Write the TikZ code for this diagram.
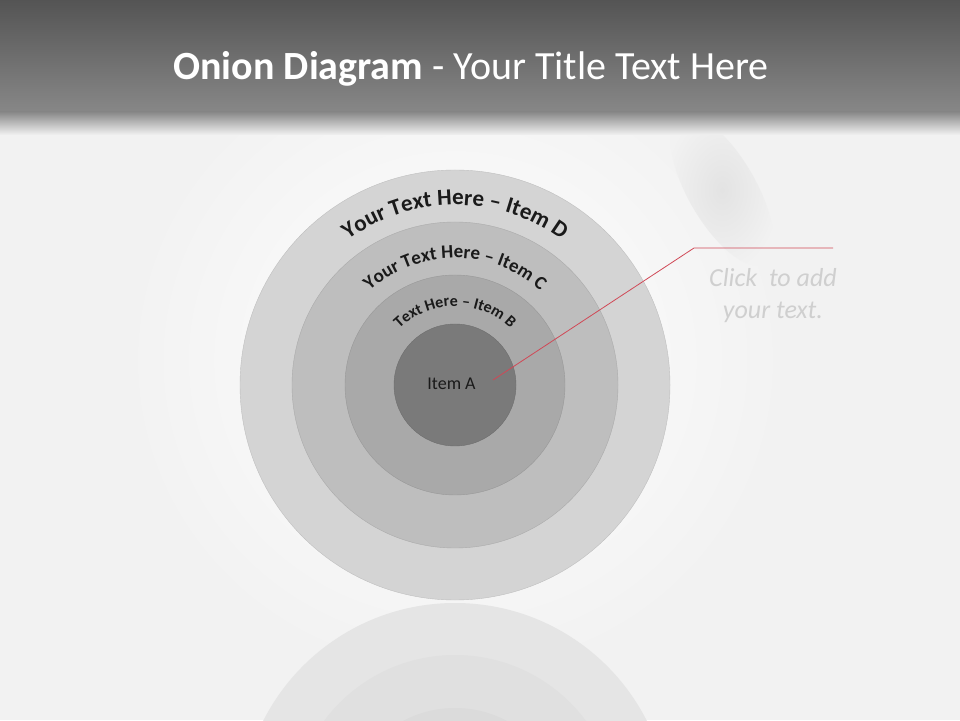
\documentclass[tikz,border=0pt]{standalone}
\usepackage{fontspec}
\setmainfont{Carlito}
\usetikzlibrary{decorations.text}
\definecolor{bgc}{HTML}{F2F2F2}
\definecolor{ringD}{HTML}{D4D4D4}
\definecolor{ringC}{HTML}{BEBEBE}
\definecolor{ringB}{HTML}{A9A9A9}
\definecolor{ringA}{HTML}{7A7A7A}
\definecolor{redline}{HTML}{D04856}
\definecolor{hintc}{HTML}{CFCFCF}
\definecolor{txtc}{HTML}{1A1A1A}
\tikzset{
  ring/.style={circle, draw=#1!90!black, line width=0.4pt, fill=#1, inner sep=0pt},
  arctext/.style={decorate, decoration={text along path, text align=center, text color=txtc, text={#1}}},
}
\begin{document}
\begin{tikzpicture}[x=1pt,y=1pt]
\useasboundingbox (0,0) rectangle (960,720);
% background
\fill[bgc] (0,0) rectangle (960,720);
\shade[inner color=white, outer color=bgc] (455,360) ellipse[x radius=330, y radius=320];
% soft shadow at right
\shade[inner color=black!11, outer color=bgc, rotate around={-60:(722,530)}] (722,530) ellipse[x radius=85, y radius=34];
% title bar
\shade[top color=black!67, bottom color=black!47] (0,720) rectangle (960,608);
\shade[top color=black!47, bottom color=bgc] (0,608.2) rectangle (960,585);
\node[text=white, font=\fontsize{40}{46}\selectfont] (title) at (471,651) {\textbf{Onion Diagram} - Your Title Text Here};
% reflection
\begin{scope}
\clip (0,0) rectangle (960,118);
\fill[black!10] (455,-98) circle[radius=215];
\fill[black!12] (455,-98) circle[radius=163];
\fill[black!14] (455,-98) circle[radius=110];
\end{scope}
% onion
\coordinate (c) at (455,335);
\node[ring=ringD, minimum size=430pt] (D) at (c) {};
\node[ring=ringC, minimum size=326pt] (C) at (c) {};
\node[ring=ringB, minimum size=220pt] (B) at (c) {};
\node[ring=ringA, minimum size=122pt, text=txtc, font=\fontsize{18}{20}\selectfont] (A) at (c) {\raisebox{3pt}{\hspace*{-7pt}Item A}};
\path[arctext={|\fontsize{23}{25}\selectfont\bfseries|Your Text Here – Item D}] (c) ++(150:180) arc[start angle=150, end angle=30, radius=180];
\path[arctext={|\fontsize{19}{21}\selectfont\bfseries|Your Text Here – Item C}] (c) ++(155:127) arc[start angle=155, end angle=25, radius=127];
\path[arctext={|\fontsize{16}{18}\selectfont\bfseries|Text Here – Item B}] (c) ++(160:79) arc[start angle=160, end angle=20, radius=79];
% callout
\coordinate (p0) at (493,340);
\coordinate (p1) at (694,472);
\coordinate (p2) at (833,472);
\draw[redline, line width=0.8pt] (p0) -- (p1) -- (p2);
\node[text=hintc, font=\itshape\fontsize{26}{32}\selectfont, align=center] (hint) at (773,424) {Click\ \ to add\\your text.};
\end{tikzpicture}
\end{document}
